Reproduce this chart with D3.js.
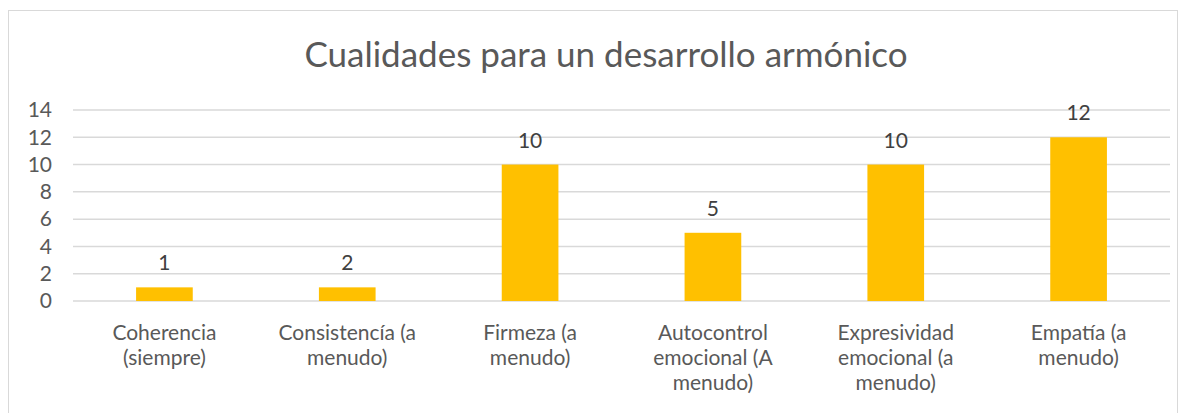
<!DOCTYPE html>
<html>
<head>
<meta charset="utf-8">
<script src="https://cdn.jsdelivr.net/npm/d3@7"></script>
<style>
  body { margin: 0; background: #fff; }
  svg { display: block; }
</style>
</head>
<body>
<div id="chart"></div>
<script>
const categories = [
    "Coherencia\n(siempre)",
    "Consistencía (a\nmenudo)",
    "Firmeza (a\nmenudo)",
    "Autocontrol\nemocional (A\nmenudo)",
    "Expresividad\nemocional (a\nmenudo)",
    "Empatía (a\nmenudo)"
];
const values = [1, 1, 10, 5, 10, 12];
const value_labels = ["1", "2", "10", "5", "10", "12"];
const y_ticks = [0, 2, 4, 6, 8, 10, 12, 14];
const title = "Cualidades para un desarrollo armónico";

const W = 1188, H = 413;
const margin = { top: 110, right: 18, bottom: 112, left: 73 };
const width = W - margin.left - margin.right;
const height = H - margin.top - margin.bottom;
const font = "Lato, 'Open Sans', sans-serif";

const svg = d3.select("#chart").append("svg")
    .attr("width", W)
    .attr("height", H);

// outer chart frame
svg.append("rect")
    .attr("x", 8.5)
    .attr("y", 10.5)
    .attr("width", 1169)
    .attr("height", 420)
    .attr("fill", "#fff")
    .attr("stroke", "#d9d9d9")
    .attr("stroke-width", 1);

svg.append("text")
    .attr("x", 606)
    .attr("y", 67)
    .attr("text-anchor", "middle")
    .style("font-family", font)
    .style("font-size", "35px")
    .style("fill", "#595959")
    .text(title);

const g = svg.append("g")
    .attr("transform", `translate(${margin.left},${margin.top})`);

const x = d3.scaleBand()
    .domain(categories)
    .range([0, width])
    .paddingInner(0.69)
    .paddingOuter(0.345);

const y = d3.scaleLinear()
    .domain([0, 14])
    .range([height, 0]);

// gridlines
g.append("g")
    .selectAll("line")
    .data(y_ticks)
    .enter().append("line")
    .attr("x1", 0)
    .attr("x2", width)
    .attr("y1", d => y(d))
    .attr("y2", d => y(d))
    .attr("stroke", "#d9d9d9")
    .attr("stroke-width", 1.5);

// y axis labels
const y_axis = g.append("g")
    .call(d3.axisLeft(y).tickValues(y_ticks).tickSize(0).tickPadding(21));
y_axis.select(".domain").remove();
y_axis.selectAll("text")
    .style("font-family", font)
    .style("font-size", "21px")
    .style("fill", "#595959");

// bars
g.append("g")
    .selectAll("rect")
    .data(values)
    .enter().append("rect")
    .attr("x", (d, i) => x(categories[i]))
    .attr("y", d => y(d))
    .attr("width", x.bandwidth())
    .attr("height", d => height - y(d))
    .attr("fill", "#ffc000");

// data labels
g.append("g")
    .selectAll("text")
    .data(values)
    .enter().append("text")
    .attr("x", (d, i) => x(categories[i]) + x.bandwidth() / 2)
    .attr("y", d => y(d) - 17)
    .attr("text-anchor", "middle")
    .style("font-family", font)
    .style("font-size", "21px")
    .style("fill", "#404040")
    .text((d, i) => value_labels[i]);

// category labels
const cat = g.append("g")
    .selectAll("text")
    .data(categories)
    .enter().append("text")
    .attr("text-anchor", "middle")
    .style("font-family", font)
    .style("font-size", "21px")
    .style("fill", "#595959");

cat.each(function (d) {
    const text = d3.select(this);
    const cx = x(d) + x.bandwidth() / 2;
    d.split("\n").forEach((line, i) => {
        text.append("tspan")
            .attr("x", cx)
            .attr("y", height + 39 + i * 25)
            .text(line);
    });
});
</script>
</body>
</html>
